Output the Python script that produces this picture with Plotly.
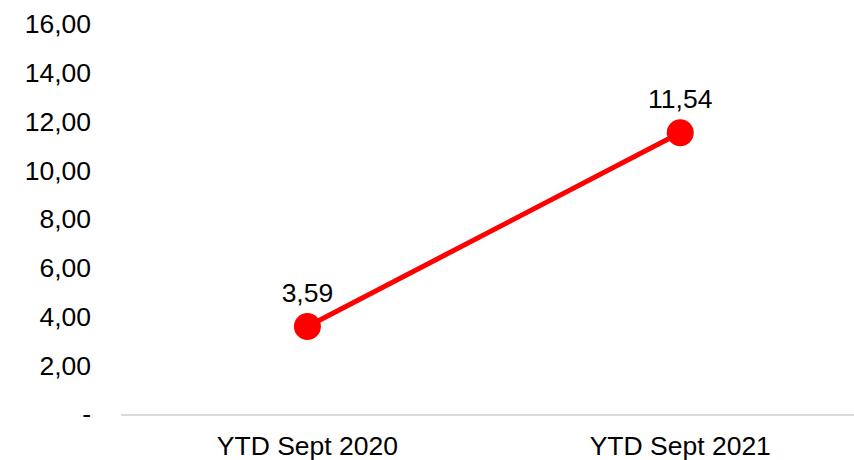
import plotly.graph_objects as go

categories = ["YTD Sept 2020", "YTD Sept 2021"]
values = [3.59, 11.54]
y_ticks = [0, 2, 4, 6, 8, 10, 12, 14, 16]

def fmt(v):
    return f"{v:.2f}".replace(".", ",")

tick_text = ["-" if v == 0 else fmt(v) for v in y_ticks]
labels = [fmt(v) for v in values]

FONT = "Liberation Sans, Arial, sans-serif"
FS = 26.5

fig = go.Figure()
fig.add_trace(go.Scatter(
    x=categories, y=values,
    mode="lines+markers+text",
    line=dict(color="#ff0000", width=5),
    marker=dict(color="#ff0000", size=27),
    text=labels, textposition="top center",
    textfont=dict(family=FONT, size=FS, color="#000000"),
    cliponaxis=False,
    hoverinfo="skip",
))

fig.update_layout(
    width=854, height=460,
    margin=dict(l=121, r=0, t=24, b=46),
    paper_bgcolor="white", plot_bgcolor="white",
    showlegend=False,
    font=dict(family=FONT, size=FS, color="#000000"),
)
fig.update_xaxes(
    type="category", range=[-0.5, 1.466],
    showgrid=False, zeroline=False,
    showline=True, linecolor="#d9d9d9", linewidth=1.5,
    ticks="", ticklabelstandoff=7,
    tickfont=dict(family=FONT, size=FS, color="#000000"),
)
fig.update_yaxes(
    range=[0, 16], showgrid=False, zeroline=False, showline=False,
    tickvals=y_ticks, ticktext=tick_text,
    ticks="", ticklabelstandoff=29,
    tickfont=dict(family=FONT, size=FS, color="#000000"),
)

fig.write_html("out.html")
